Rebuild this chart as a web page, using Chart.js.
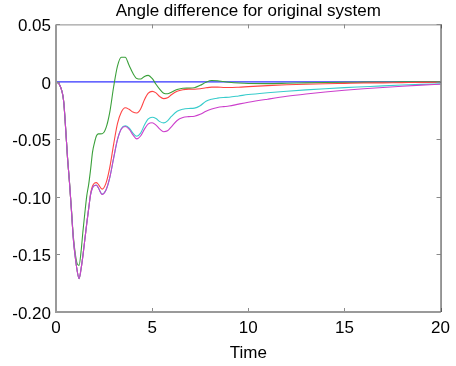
<!DOCTYPE html>
<html>
<head>
<meta charset="utf-8">
<script src="https://cdn.jsdelivr.net/npm/chart.js@4.4.1/dist/chart.umd.min.js"></script>
<style>
  html, body { margin: 0; padding: 0; background: #fff; }
  #wrap { width: 456px; height: 366px; }
</style>
</head>
<body>
<div id="wrap"><canvas id="angle-chart" width="456" height="366"></canvas></div>
<script>
// time axis (same for every curve)
const time = [0, 0.2, 0.4, 0.5, 0.6, 0.7, 0.8, 0.9, 1.0, 1.1, 1.2, 1.3, 1.4, 1.5, 1.6, 1.7, 1.8, 1.9, 2.0, 2.1, 2.2,
  2.4, 2.6, 2.8, 3.0, 3.2, 3.4, 3.6, 3.8, 4.0, 4.2, 4.4, 4.6, 4.8, 5.0, 5.2, 5.4, 5.6, 5.8, 6.0,
  6.3, 6.6, 6.9, 7.2, 7.5, 7.8, 8.1, 8.4, 8.7, 9.0, 9.5, 10, 11, 12, 13, 14, 15, 16, 17, 18, 19, 20];

//Angle differences
const blueValues = time.map(() => 0);
const greenValues = [0, -0.003, -0.017, -0.040, -0.066, -0.087, -0.110, -0.134, -0.149, -0.158, -0.1595, -0.148, -0.130, -0.114, -0.099, -0.089, -0.076, -0.061, -0.053, -0.047, -0.0452,
  -0.045, -0.040, -0.026, -0.004, 0.014, 0.0215, 0.0215, 0.0145, 0.0075, 0.003, 0.0025, 0.0048, 0.0057, 0.003, -0.002, -0.0065, -0.0098, -0.0103, -0.009,
  -0.0066, -0.0055, -0.0054, -0.005, -0.003, -0.0003, 0.0012, 0.001, 0.0003, -0.0003, -0.001, -0.0014, -0.0015, -0.0012, -0.0008, -0.0005, -0.0003, -0.0002, -0.0001, 0, 0, 0];
const redValues = [0, -0.003, -0.017, -0.040, -0.066, -0.087, -0.111, -0.136, -0.152, -0.164, -0.171, -0.163, -0.151, -0.137, -0.123, -0.110, -0.097, -0.0905, -0.088, -0.0875, -0.089,
  -0.0932, -0.088, -0.074, -0.054, -0.036, -0.0262, -0.0225, -0.0238, -0.0262, -0.027, -0.0235, -0.0155, -0.0098, -0.0082, -0.0095, -0.0128, -0.0145, -0.0138, -0.0112,
  -0.0082, -0.0068, -0.0063, -0.0064, -0.006, -0.0051, -0.0045, -0.0045, -0.0048, -0.0049, -0.0046, -0.0041, -0.0032, -0.0025, -0.002, -0.0016, -0.0013, -0.001, -0.0008, -0.0006, -0.0004, -0.0003];
const cyanValues = [0, -0.003, -0.017, -0.040, -0.066, -0.087, -0.111, -0.136, -0.152, -0.164, -0.171, -0.163, -0.151, -0.137, -0.123, -0.110, -0.098, -0.092, -0.090, -0.0897, -0.092,
  -0.0975, -0.094, -0.083, -0.066, -0.050, -0.0405, -0.0382, -0.040, -0.0445, -0.0472, -0.0445, -0.0375, -0.0322, -0.0307, -0.0318, -0.0345, -0.0356, -0.0338, -0.030,
  -0.0255, -0.0237, -0.0231, -0.0228, -0.0207, -0.0168, -0.015, -0.0141, -0.0136, -0.0133, -0.0122, -0.011, -0.0094, -0.0081, -0.0069, -0.0059, -0.005, -0.0042, -0.0034, -0.0027, -0.0021, -0.0016];
const magentaValues = [0, -0.003, -0.017, -0.040, -0.066, -0.087, -0.111, -0.136, -0.152, -0.164, -0.171, -0.163, -0.151, -0.137, -0.123, -0.110, -0.098, -0.092, -0.090, -0.0898, -0.092,
  -0.0978, -0.094, -0.083, -0.066, -0.050, -0.041, -0.0388, -0.041, -0.046, -0.0495, -0.047, -0.041, -0.0365, -0.0355, -0.0375, -0.041, -0.0433, -0.0425, -0.039,
  -0.0335, -0.031, -0.0302, -0.0298, -0.0282, -0.0255, -0.0235, -0.0222, -0.0215, -0.021, -0.0193, -0.0177, -0.015, -0.0125, -0.0105, -0.0088, -0.0073, -0.006, -0.0048, -0.0037, -0.0028, -0.002];

const xTicks = [0, 5, 10, 15, 20];
const yTicks = [-0.2, -0.15, -0.1, -0.05, 0, 0.05];

const fontFamily = '"Liberation Sans", Arial, sans-serif';

function toPoints(values) {
  return values.map((v, i) => ({ x: time[i], y: v }));
}

function makeLine(values, color) {
  return {
    data: toPoints(values),
    borderColor: color,
    borderWidth: 1.1,
    pointRadius: 0,
    fill: false,
    cubicInterpolationMode: "monotone",
  };
}

// box around the plot + inward ticks, like the octave figure
const frame = {
  id: "frame",
  afterDraw(chart) {
    const c = chart.ctx;
    const a = chart.chartArea;
    const xs = chart.scales.x;
    const ys = chart.scales.y;
    c.save();
    c.lineWidth = 1;
    c.strokeStyle = "#8a8a8a";
    c.beginPath();
    xTicks.forEach(t => {
      const px = Math.round(xs.getPixelForValue(t)) + 0.5;
      c.moveTo(px, a.bottom); c.lineTo(px, a.bottom - 4);
      c.moveTo(px, a.top); c.lineTo(px, a.top + 4);
    });
    yTicks.forEach(t => {
      const py = Math.round(ys.getPixelForValue(t)) + 0.5;
      c.moveTo(a.left, py); c.lineTo(a.left + 4, py);
      c.moveTo(a.right, py); c.lineTo(a.right - 4, py);
    });
    c.stroke();
    // top
    c.beginPath();
    c.moveTo(a.left, a.top + 0.5); c.lineTo(a.right, a.top + 0.5);
    c.stroke();
    // left and bottom
    c.lineWidth = 2;
    c.strokeStyle = "#9a9a9a";
    c.beginPath();
    c.moveTo(a.left, a.top); c.lineTo(a.left, a.bottom);
    c.lineTo(a.right, a.bottom);
    c.stroke();
    // right
    c.lineWidth = 1;
    c.strokeStyle = "#333";
    c.beginPath();
    c.moveTo(a.right + 0.5, a.top); c.lineTo(a.right + 0.5, a.bottom);
    c.stroke();
    c.restore();
  }
};

const ctx = document.getElementById("angle-chart").getContext("2d");
new Chart(ctx, {
  type: "line",
  data: {
    datasets: [
      makeLine(magentaValues, "#cc3fcc"),
      makeLine(cyanValues, "#38cccc"),
      makeLine(redValues, "#ff4444"),
      makeLine(greenValues, "#3aa03a"),
      makeLine(blueValues, "#3333ff"),
    ],
  },
  options: {
    responsive: false,
    animation: false,
    events: [],
    layout: { padding: { left: 0, right: 13, top: 0, bottom: 0 } },
    plugins: {
      legend: { display: false },
      tooltip: { enabled: false },
      title: {
        display: true,
        fullSize: false,
        text: "Angle difference for original system",
        color: "#000",
        font: { family: fontFamily, size: 17, weight: "normal" },
        padding: { top: 1, bottom: 3 },
      },
    },
    scales: {
      x: {
        type: "linear",
        min: 0,
        max: 20,
        afterFit: (scale) => { scale.height = 54; },
        afterBuildTicks: (scale) => { scale.ticks = xTicks.map(v => ({ value: v })); },
        grid: { display: false, drawTicks: false },
        border: { display: false },
        ticks: { color: "#000", padding: 6, font: { family: fontFamily, size: 17 } },
        title: {
          display: true,
          text: "Time",
          color: "#000",
          font: { family: fontFamily, size: 17 },
          padding: { top: 0, bottom: 2 },
        },
      },
      y: {
        min: -0.2,
        max: 0.05,
        afterFit: (scale) => { scale.width = 56; },
        afterBuildTicks: (scale) => { scale.ticks = yTicks.map(v => ({ value: v })); },
        grid: { display: false, drawTicks: false },
        border: { display: false },
        ticks: { color: "#000", padding: 5, labelOffset: 2, font: { family: fontFamily, size: 17 } },
      },
    },
  },
  plugins: [frame],
});
</script>
</body>
</html>
